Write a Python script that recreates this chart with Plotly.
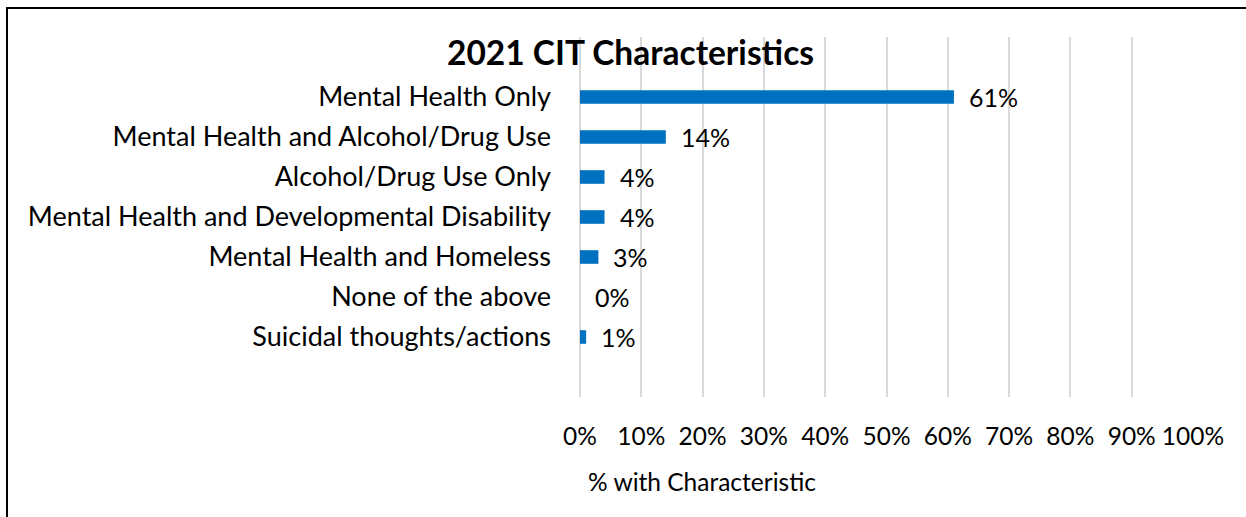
import plotly.graph_objects as go

categories = [
    "Mental Health Only",
    "Mental Health and Alcohol/Drug Use",
    "Alcohol/Drug Use Only",
    "Mental Health and Developmental Disability",
    "Mental Health and Homeless",
    "None of the above",
    "Suicidal thoughts/actions",
]
values = [61, 14, 4, 4, 3, 0, 1]
tick_vals = [0, 10, 20, 30, 40, 50, 60, 70, 80, 90, 100]
tick_text = ["0%", "10%", "20%", "30%", "40%", "50%", "60%", "70%", "80%", "90%", "100%"]
title_text = "2021 CIT Characteristics"
x_title = "% with Characteristic"

FONT = "Lato"
BLUE = "#0070C0"

fig = go.Figure()
fig.add_trace(go.Bar(
    y=categories,
    x=values,
    orientation="h",
    marker=dict(color=BLUE, line=dict(width=0)),
    width=0.34,
    hoverinfo="skip",
))

annotations = []
for c, v in zip(categories, values):
    annotations.append(dict(
        x=v, y=c, xref="x", yref="y", text=f"{v}%", showarrow=False,
        xanchor="left", yanchor="middle", xshift=13,
        font=dict(family=FONT, size=25, color="#000000"),
    ))
annotations.append(dict(
    x=(702 - 580) / 613, y=(397 - 481) / 360, xref="paper", yref="paper",
    text=x_title, showarrow=False, xanchor="center", yanchor="middle",
    font=dict(family=FONT, size=24.5, color="#000000"),
))
annotations.append(dict(
    x=(630 - 580) / 613, y=(397 - 52) / 360, xref="paper", yref="paper",
    text=f"<b>{title_text}</b>", showarrow=False, xanchor="center", yanchor="middle",
    font=dict(family=FONT, size=33.5, color="#000000"),
))

fig.update_layout(
    width=1246, height=517,
    margin=dict(l=580, r=53, t=37, b=120, pad=0),
    paper_bgcolor="white", plot_bgcolor="white",
    showlegend=False,
    annotations=annotations,
    shapes=[dict(
        type="rect", xref="paper", yref="paper",
        x0=(7 - 580) / 613, x1=1.2, y0=-0.6, y1=(397 - 8) / 360,
        line=dict(color="#000000", width=2), fillcolor="rgba(0,0,0,0)", layer="below",
    )],
    xaxis=dict(
        range=[0, 100], tickvals=tick_vals, ticktext=tick_text,
        showgrid=True, gridcolor="#D9D9D9", gridwidth=1.5,
        zeroline=True, zerolinecolor="#D9D9D9", zerolinewidth=1.5,
        showline=False, ticks="",
        ticklabelstandoff=22,
        tickfont=dict(family=FONT, size=24.5, color="#000000"),
    ),
    yaxis=dict(
        type="category", categoryorder="array", categoryarray=categories,
        range=[7.5, -1.5], showgrid=False, zeroline=False, showline=False, ticks="",
        ticklabelstandoff=28,
        tickfont=dict(family=FONT, size=27, color="#000000"),
    ),
)

fig.write_html("out.html", config={"displayModeBar": False},
               post_script="document.body.style.margin='0';")
